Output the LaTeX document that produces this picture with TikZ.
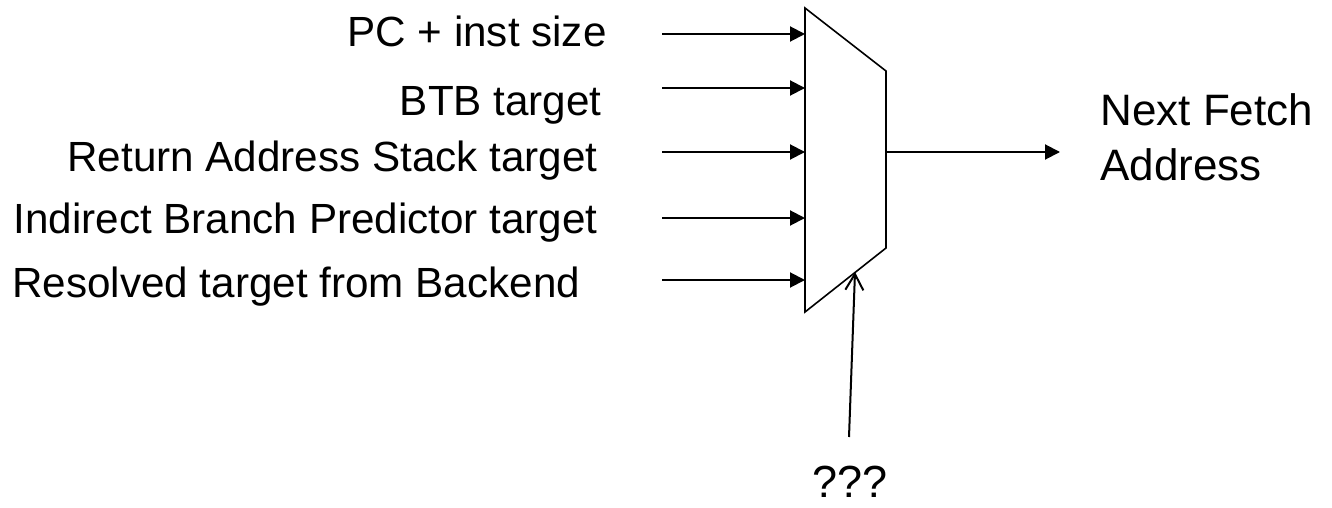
\documentclass[tikz,border=0pt]{standalone}
\usepackage{fontspec}
\setmainfont{Liberation Sans}
\usetikzlibrary{arrows.meta}
\begin{document}
\begin{tikzpicture}[x=0.5pt,y=-0.5pt,
	lbl/.style={inner sep=0pt,font=\fontsize{21.1}{25}\selectfont},
	big/.style={inner sep=0pt,font=\fontsize{22}{27.5}\selectfont,align=left},
	inarrow/.style={line width=1pt,-{Triangle[length=7.5pt,width=7.5pt]}},
	selarrow/.style={line width=1pt,-{Straight Barb[length=8pt,width=9pt]}}]
	\useasboundingbox (0,0) rectangle (1332,508);

	% Mux outline
	\coordinate (mtl) at (805,8);
	\coordinate (mtr) at (886,71);
	\coordinate (mbr) at (886,248);
	\coordinate (mbl) at (805,312);
	\draw[line width=0.8pt] (mtl) -- (mtr) -- (mbr) -- (mbl) -- cycle;

	% Input labels
	\node[lbl,anchor=base east] (pc) at (607,47) {PC + inst size};
	\node[lbl,anchor=base east] (btb) at (602,116) {BTB target};
	\node[lbl,anchor=base east] (ras) at (598,171) {Return Address Stack target};
	\node[lbl,anchor=base east] (ibp) at (598,233) {Indirect Branch Predictor target};
	\node[lbl,anchor=base west] (res) at (12,297) {Resolved target from Backend};

	% Input arrows
	\foreach \i/\y in {1/34,2/88,3/152,4/218,5/280} {
		\coordinate (s\i) at (662,\y);
		\coordinate (in\i) at (805,\y);
		\draw[inarrow] (s\i) -- (in\i);
	}

	% Output
	\coordinate (out) at (886,152);
	\coordinate (outend) at (1060,152);
	\draw[inarrow] (out) -- (outend);
	\node[big,anchor=base west] (nfa) at (1100,180) {Next Fetch\\Address};

	% Select
	\coordinate (selfoot) at (849,437);
	\coordinate (selin) at (855,272);
	\draw[selarrow] (selfoot) -- (selin);
	\node[inner sep=0pt,font=\fontsize{22.5}{27}\selectfont,anchor=base] (sel) at (850,497) {???};
\end{tikzpicture}
\end{document}
